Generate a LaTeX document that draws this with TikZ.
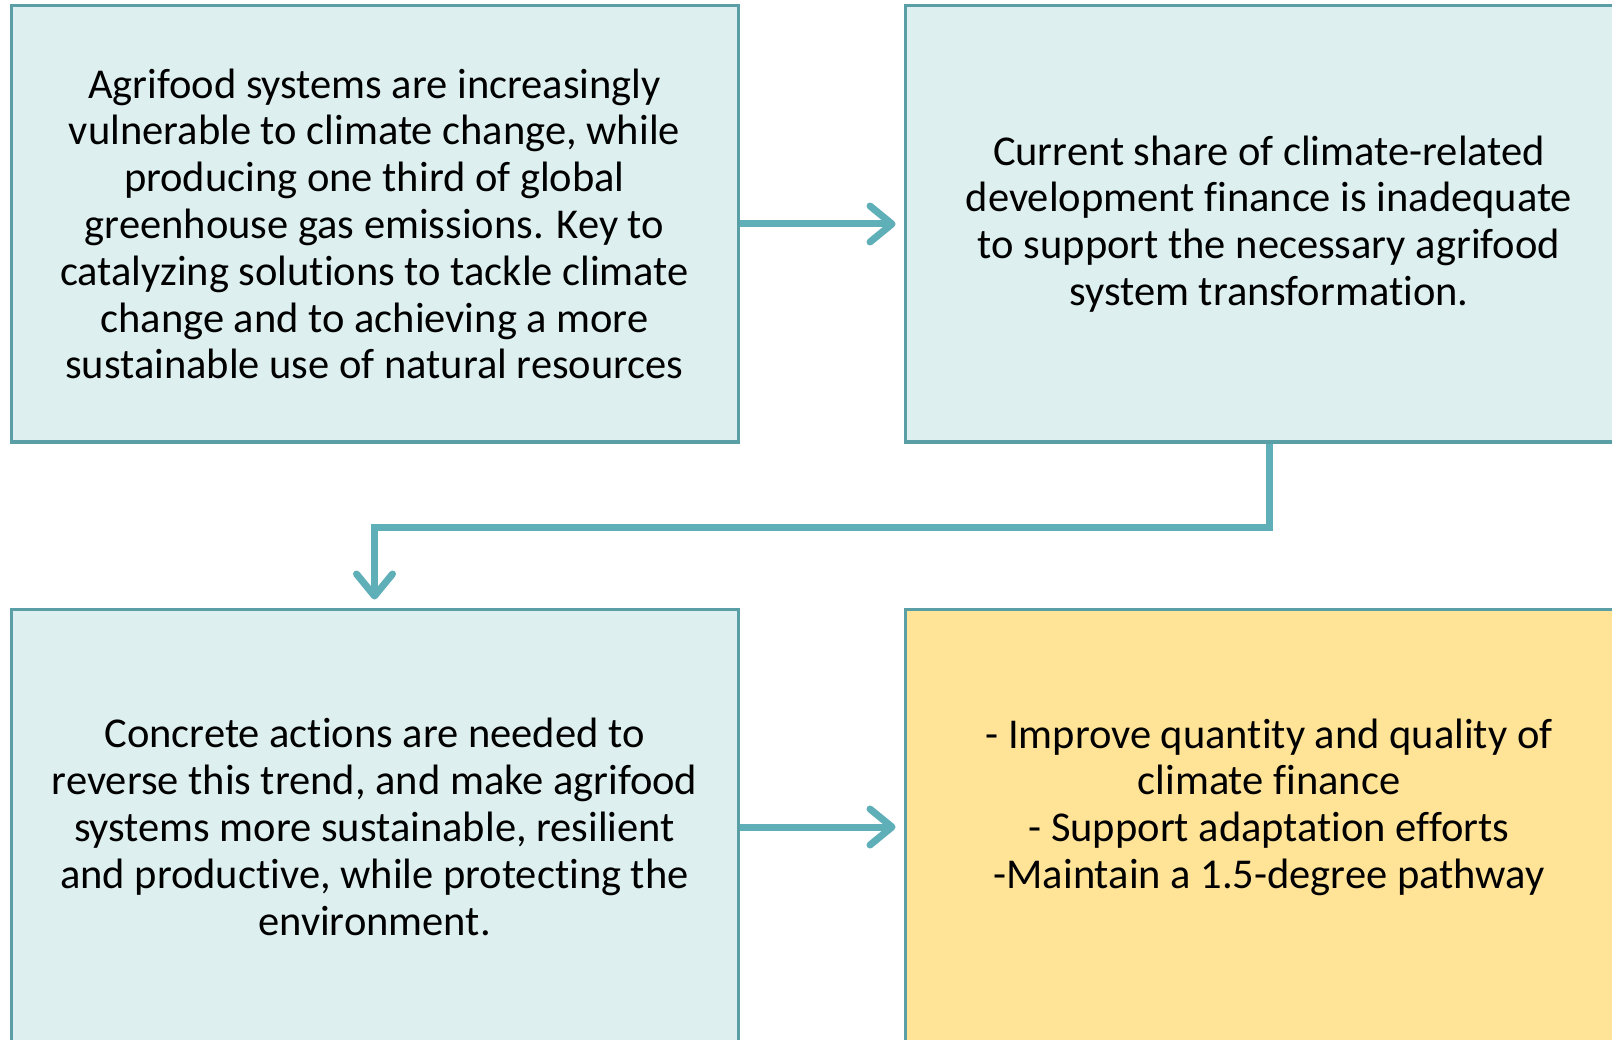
\documentclass[tikz,border=0pt]{standalone}
\usepackage{fontspec}
\setmainfont[Ligatures=NoCommon]{Carlito}
\usetikzlibrary{arrows.meta}
\definecolor{boxfill}{HTML}{DDEFEF}
\definecolor{boxline}{HTML}{5A9FA6}
\definecolor{connline}{HTML}{5EAFB8}
\definecolor{yellowfill}{HTML}{FFE497}
\begin{document}
\begin{tikzpicture}[x=1pt,y=-1pt,
  infobox/.style={draw=boxline, line width=3pt, fill=boxfill, minimum width=727pt, minimum height=436pt, inner sep=0pt, align=center, font=\fontsize{42.5}{46.8}\selectfont},
  conn/.style={draw=connline, line width=7pt, -{Straight Barb[length=22pt,width=36pt,round]}, shorten >=8pt}]
\useasboundingbox (0,0) rectangle (1612,1040);
\fill[white] (0,0) rectangle (1612,1040);
\clip (0,0) rectangle (1612,1040);
\node[infobox] (tl) at (374.5,224) {Agrifood systems are increasingly\\vulnerable to climate change, while\\producing one third of global\\greenhouse gas emissions. Key to\\catalyzing solutions to tackle climate\\change and to achieving a more\\sustainable use of natural resources};
\node[infobox, minimum width=728pt] (tr) at (1269,224) {Current share of climate-related\\development finance is inadequate\\to support the necessary agrifood\\system transformation.};
\node[infobox] (bl) at (374.5,827) {Concrete actions are needed to\\reverse this trend, and make agrifood\\systems more sustainable, resilient\\and productive, while protecting the\\environment.};
\node[infobox, minimum width=728pt, fill=yellowfill] (br) at (1269,827) {- Improve quantity and quality of\\climate finance\\- Support adaptation efforts\\-Maintain a 1.5-degree pathway\\\mbox{}};
\draw[conn] (tl.east) -- (tr.west);
\draw[conn] (bl.east) -- (br.west);
\draw[conn] (tr.south) -- ++(0,84) -| (bl.north);
\end{tikzpicture}
\end{document}
